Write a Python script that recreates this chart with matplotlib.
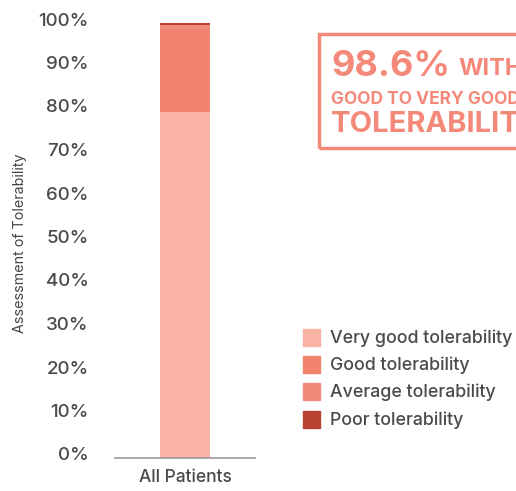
import matplotlib
matplotlib.use("Agg")
import matplotlib.pyplot as plt
from matplotlib.patches import Rectangle
from matplotlib.transforms import ScaledTranslation

categories = ["All Patients"]
series_names = ["Very good tolerability", "Good tolerability", "Average tolerability", "Poor tolerability"]
series_values = [[79.6], [19.0], [0.9], [0.5]]
colors = ["#f9b3a5", "#f2846f", "#f28a7c", "#b8412f"]
yticks = [0, 10, 20, 30, 40, 50, 60, 70, 80, 90, 100]
ytick_labels = [f"{v}%" for v in yticks]

plt.rcParams['font.family'] = ['Inter', 'DejaVu Sans']
txt = "#4a4a4a"
acc = "#f4897a"

fig = plt.figure(figsize=(5.16, 4.91), dpi=100)
ax = fig.add_axes([115/516, 1-458/491, 140/516, (458-23)/491])

bottom = [0.0]
for name, vals, c in zip(series_names, series_values, colors):
    ax.bar(range(len(categories)), vals, bottom=bottom, width=0.5, color=c, label=name, zorder=2)
    bottom = [b + v for b, v in zip(bottom, vals)]

ax.set_xlim(-0.7, 0.7)
ax.set_ylim(0, 100)
ax.set_xticks(range(len(categories)))
ax.set_xticklabels(categories, fontsize=12.5, color=txt, fontweight="medium")
ax.set_yticks(yticks)
ax.set_yticklabels(ytick_labels, fontsize=13.5, color=txt, fontweight="medium")
ax.tick_params(axis='both', length=0)
ax.tick_params(axis='y', pad=19)
ax.tick_params(axis='x', pad=8)
off = ScaledTranslation(0, 4/100, fig.dpi_scale_trans)
for lab in ax.get_yticklabels():
    lab.set_transform(lab.get_transform() + off)
for s in ["top", "right", "left"]:
    ax.spines[s].set_visible(False)
ax.spines["bottom"].set_color("#999999")
ax.spines["bottom"].set_linewidth(1.2)
fig.text(20/516, 1-243/491, "Assessment of Tolerability", rotation=90, fontsize=10.3,
         color="#444444", ha="center", va="center")

# Legend
leg_y = [338, 365, 392, 420]
for name, c, y in zip(series_names, colors, leg_y):
    fig.patches.append(Rectangle((303/516, 1-(y+8)/491), 17/516, 17/491,
                                 transform=fig.transFigure, color=c))
    fig.text(330/516, 1-y/491, name, fontsize=12.8, color=txt, va="center", ha="left",
             fontweight="medium")

# Callout box
fig.patches.append(Rectangle((319/516, 1-148/491), 220/516, 114/491, transform=fig.transFigure,
                             fill=False, edgecolor=acc, linewidth=2.5))
fig.text(331/516, 1-66/491, "98.6%", fontsize=26, fontweight="bold", color=acc, va="center", ha="left")
fig.text(458/516, 1-69/491, "WITH", fontsize=17, fontweight="bold", color=acc, va="center", ha="left")
fig.text(331/516, 1-99/491, "GOOD TO VERY GOOD", fontsize=12.5, fontweight="bold", color=acc, va="center", ha="left")
fig.text(331/516, 1-124/491, "TOLERABILITY", fontsize=21, fontweight="bold", color=acc, va="center", ha="left")

fig.savefig("out.png", dpi=100)
